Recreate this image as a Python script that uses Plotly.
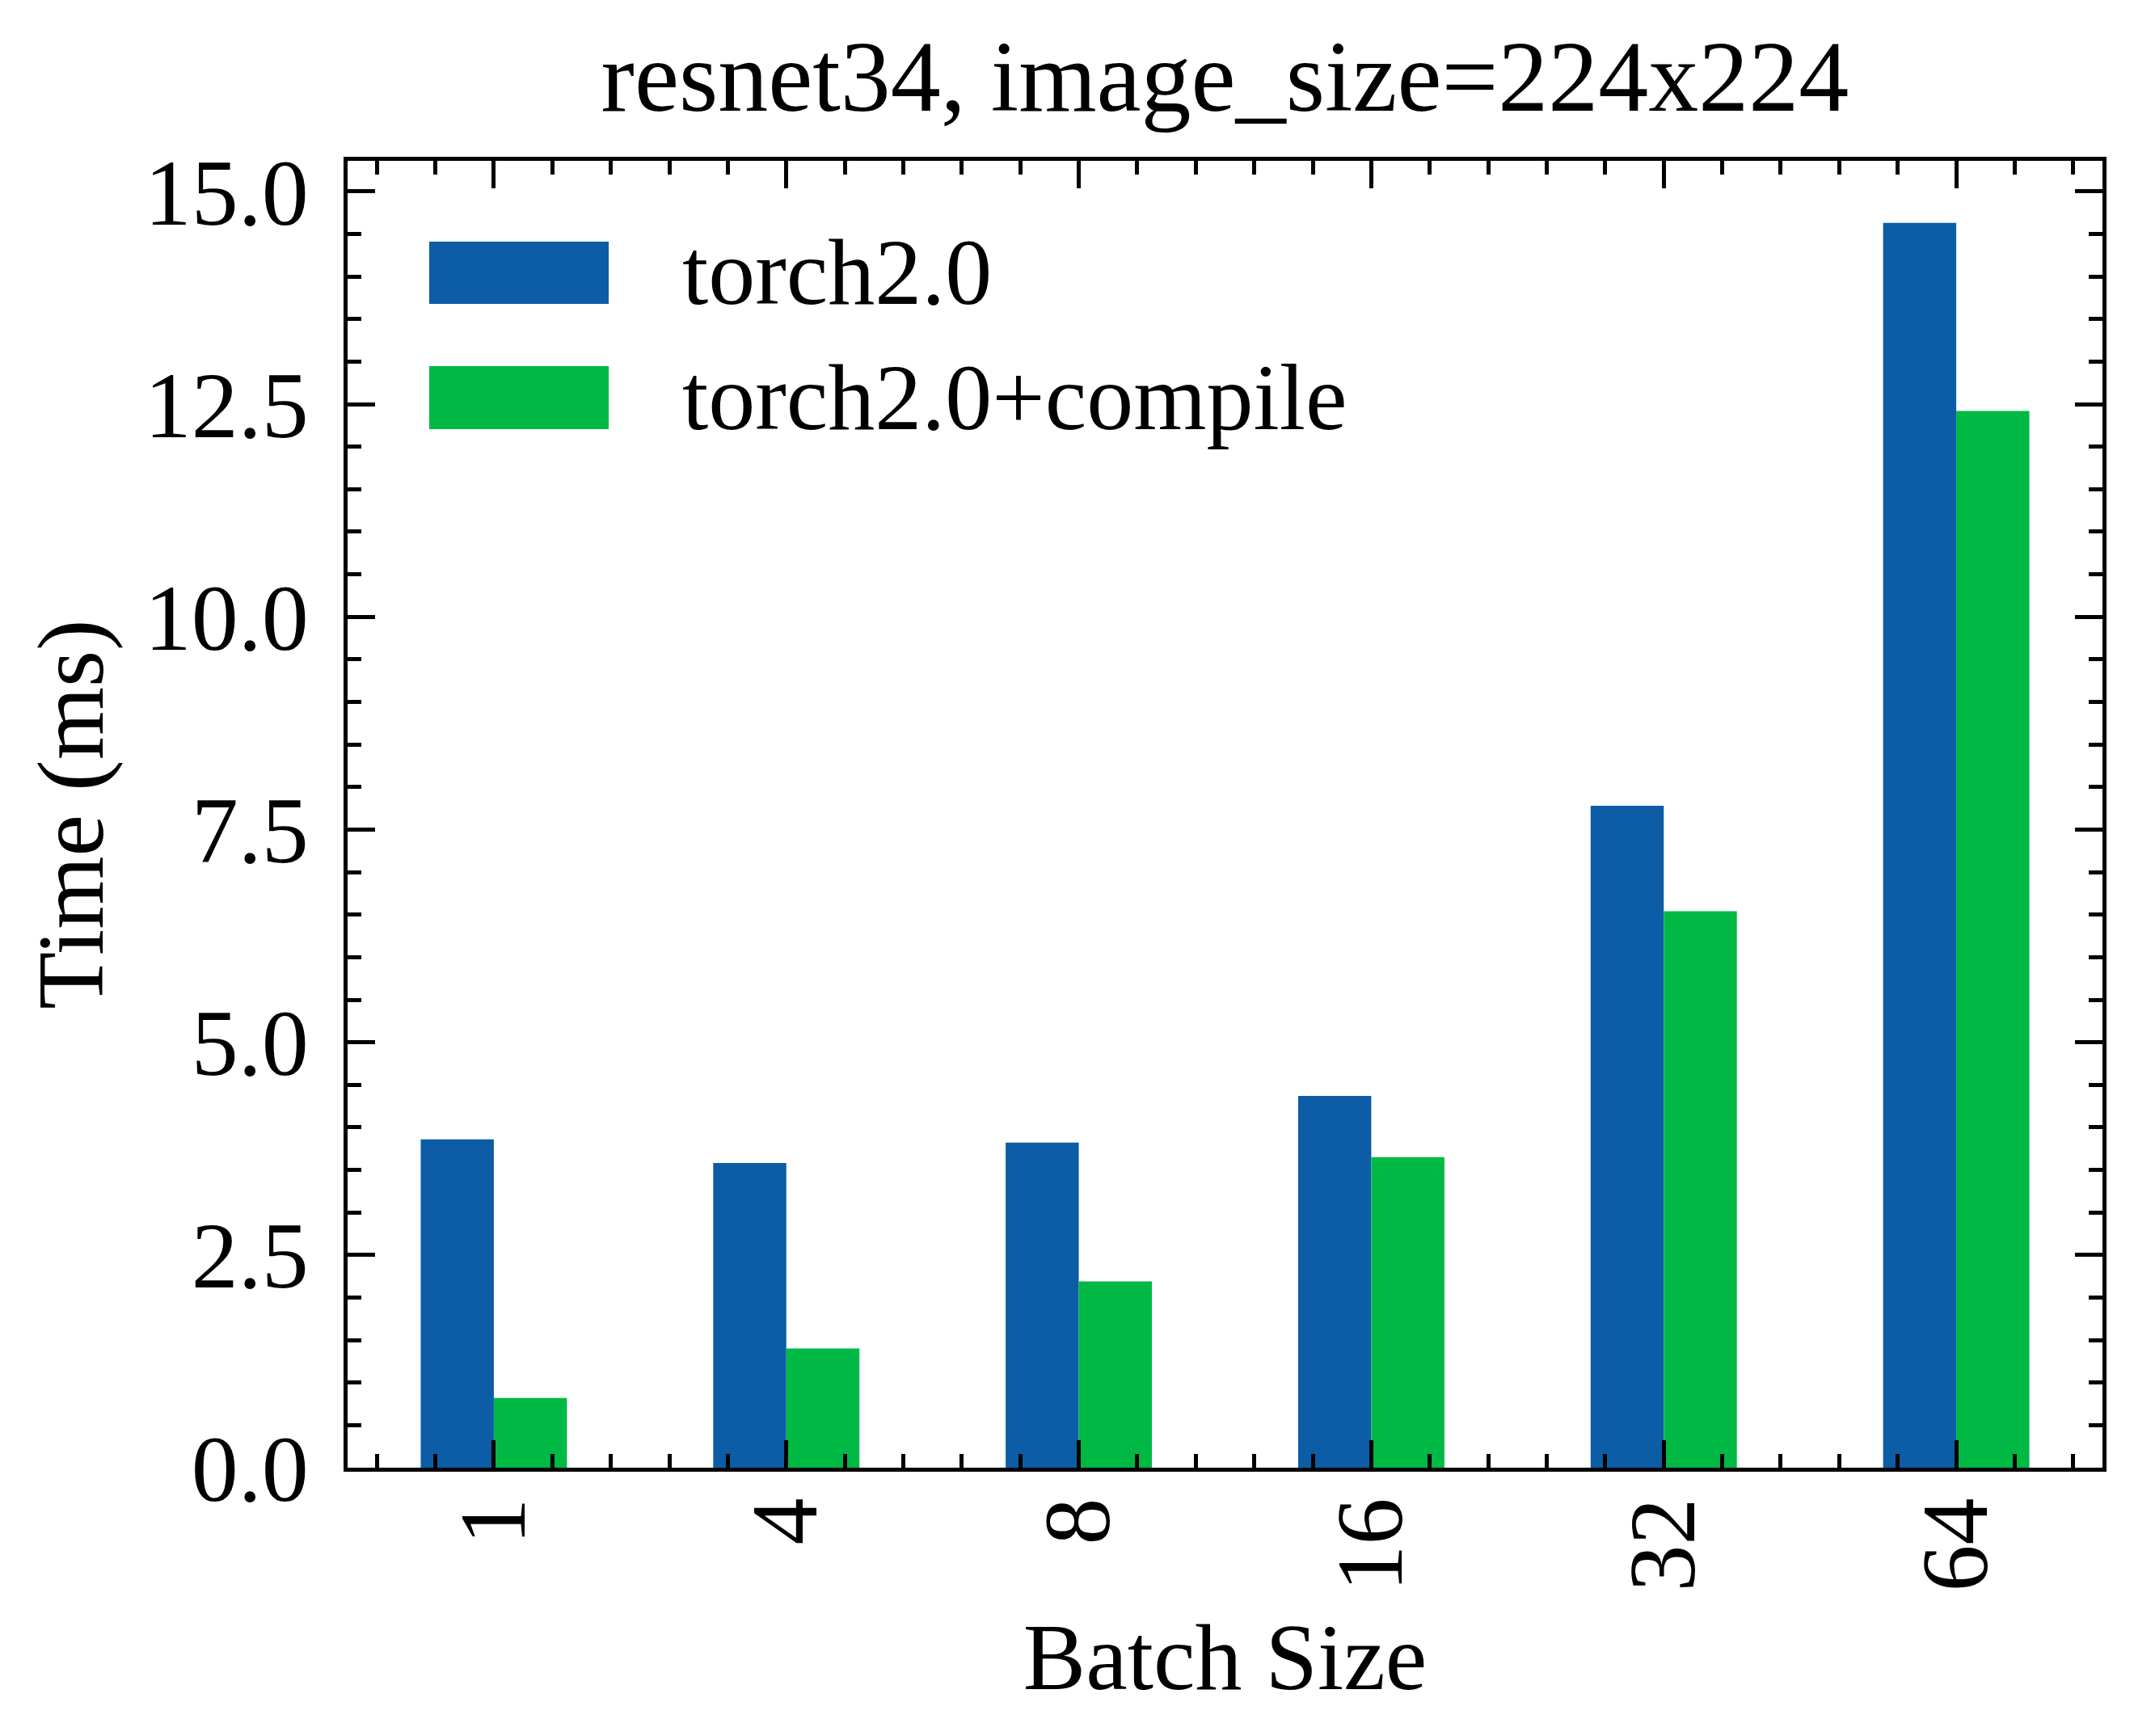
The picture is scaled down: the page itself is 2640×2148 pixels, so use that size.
import plotly.graph_objects as go

# ---- data ----
batch_sizes = ["1", "4", "8", "16", "32", "64"]
torch20 = [3.86, 3.58, 3.82, 4.37, 7.78, 14.63]
torch20_compile = [0.82, 1.40, 2.19, 3.65, 6.54, 12.42]
series_names = ["torch2.0", "torch2.0+compile"]
y_ticks = [0.0, 2.5, 5.0, 7.5, 10.0, 12.5, 15.0]

colors = ["#0C5DA5", "#00B945"]
FONT = "Liberation Serif"
FS = 116

x_pos = list(range(len(batch_sizes)))

fig = go.Figure()
for name, vals, c in zip(series_names, [torch20, torch20_compile], colors):
    fig.add_trace(go.Bar(x=x_pos, y=vals, name=name, marker=dict(color=c, line=dict(width=0)),
                         showlegend=False))

W, H = 2640, 2148
L, R, T, B = 430, 39, 199, 332

axis_common = dict(
    showline=True, linecolor="black", linewidth=5, mirror="allticks",
    ticks="inside", ticklen=34, tickwidth=4.5, tickcolor="black",
    showgrid=False, zeroline=False,
    tickfont=dict(family=FONT, size=FS, color="black"),
)

fig.update_layout(
    width=W, height=H,
    margin=dict(l=L, r=R, t=T, b=B),
    paper_bgcolor="white", plot_bgcolor="white",
    barmode="group", bargap=0.5, bargroupgap=0,
    font=dict(family=FONT, size=FS, color="black"),
    title=dict(text="resnet34, image_size=224x224", x=(L + (W - R)) / 2 / W, xanchor="center",
               y=1 - 94 / H, yanchor="middle", yref="container",
               font=dict(family=FONT, size=124, color="black")),
    xaxis=dict(
        **axis_common,
        range=[-0.5, len(batch_sizes) - 0.5],
        tickmode="array", tickvals=x_pos, ticktext=batch_sizes,
        tickangle=-90, ticklabelstandoff=-14,
        minor=dict(ticks="inside", ticklen=17, tickwidth=4.5, tickcolor="black",
                   tick0=0, dtick=0.2, showgrid=False),
        title=dict(text="Batch Size", standoff=42, font=dict(family=FONT, size=FS)),
    ),
    yaxis=dict(
        **axis_common,
        range=[0, 15.36],
        tickmode="array", tickvals=y_ticks, ticktext=[f"{v:.1f}" for v in y_ticks],
        ticklabelstandoff=20,
        minor=dict(ticks="inside", ticklen=17, tickwidth=4.5, tickcolor="black",
                   tick0=0, dtick=0.5, showgrid=False),
        title=dict(text="Time (ms)", standoff=14, font=dict(family=FONT, size=FS)),
    ),
)

# ---- legend drawn manually (large patches as in reference) ----
leg_y = [(0.8905, 0.9382), (0.7947, 0.8429)]
for name, c, (y0, y1) in zip(series_names, colors, leg_y):
    fig.add_shape(type="rect", xref="x domain", yref="y domain",
                  x0=0.0465, x1=0.1488, y0=y0, y1=y1,
                  fillcolor=c, line=dict(width=0), layer="above")
    fig.add_annotation(xref="x domain", yref="y domain", x=0.1898, y=(y0 + y1) / 2,
                       text=name, showarrow=False, xanchor="left", yanchor="middle",
                       font=dict(family=FONT, size=FS, color="black"))

fig.write_html("out.html", config={"displayModeBar": False},
               post_script="document.body.style.margin='0';document.body.style.overflow='hidden';")
